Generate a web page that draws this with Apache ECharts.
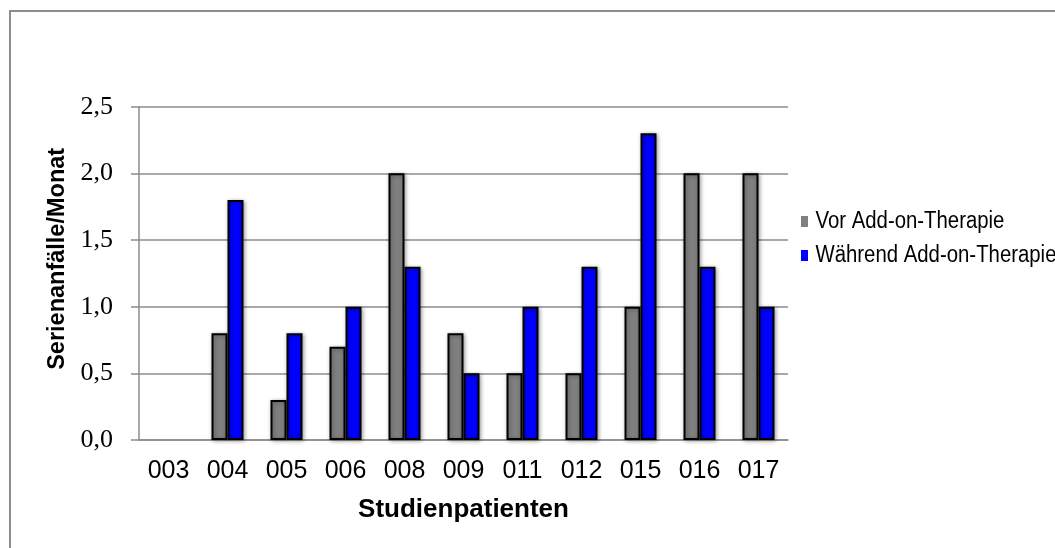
<!DOCTYPE html>
<html>
<head>
<meta charset="utf-8">
<script src="https://cdn.jsdelivr.net/npm/echarts@6/dist/echarts.min.js"></script>
<style>
  html, body { margin: 0; padding: 0; background: #fff; }
  #chart { width: 1055px; height: 548px; }
</style>
</head>
<body>
<div id="chart"></div>
<script>
// Patient IDs along the x axis
const patients = ['003', '004', '005', '006', '008', '009', '011', '012', '015', '016', '017'];
// Seizure clusters per month before add-on therapy
const vorTherapie = [0, 0.8, 0.3, 0.7, 2.0, 0.8, 0.5, 0.5, 1.0, 2.0, 2.0];
// Seizure clusters per month during add-on therapy
const waehrendTherapie = [0, 1.8, 0.8, 1.0, 1.3, 0.5, 1.0, 1.3, 2.3, 1.3, 1.0];
// Series names shown in the legend
const seriesNames = ['Vor Add-on-Therapie', 'Während Add-on-Therapie'];
// Value axis range and step
const yMin = 0, yMax = 2.5, yStep = 0.5;

// Legend layout: first row centre and row pitch
const legendLeft = 801, legendFirstY = 221.5, legendPitch = 34, legendIconH = 11;

const barStyle = (color) => ({
  color: color,
  borderColor: '#000',
  borderWidth: 2,
  shadowColor: 'rgba(0,0,0,0.35)',
  shadowBlur: 4,
  shadowOffsetX: 1,
  shadowOffsetY: 1
});

// Zero-height bars get no outline so nothing is drawn for them
const toItems = (arr) => arr.map(v => v === 0 ? { value: v, itemStyle: { borderWidth: 0, shadowBlur: 0 } } : v);

// Legend labels in a condensed face (horizontally scaled sans)
const legendLabels = seriesNames.map((name, i) => ({
  type: 'text',
  silent: true,
  x: legendLeft + 14.5,
  y: legendFirstY + i * legendPitch,
  scaleX: 0.866,
  style: {
    text: name,
    x: 0,
    y: 0,
    fill: '#000',
    font: '23.5px "Liberation Sans", Arial, sans-serif',
    verticalAlign: 'middle',
    align: 'left'
  }
}));

const chart = echarts.init(document.getElementById('chart'), null, { renderer: 'canvas' });
chart.setOption({
  animation: false,
  backgroundColor: '#fff',
  graphic: [{
    type: 'rect',
    z: -10,
    silent: true,
    shape: { x: 10, y: 11, width: 1200, height: 700 },
    style: { fill: 'none', stroke: '#8c8c8c', lineWidth: 2 }
  }].concat(legendLabels),
  grid: { left: 139, right: 267, top: 106.7, bottom: 108, containLabel: false },
  legend: {
    orient: 'vertical',
    left: legendLeft,
    top: legendFirstY - legendIconH / 2,
    padding: 0,
    itemWidth: 7,
    itemHeight: legendIconH,
    itemGap: legendPitch - legendIconH,
    icon: 'rect',
    itemStyle: { borderWidth: 0, shadowBlur: 0 },
    formatter: () => '',
    textStyle: { fontSize: 1, lineHeight: 1 },
    data: seriesNames
  },
  xAxis: {
    type: 'category',
    data: patients,
    name: 'Studienpatienten',
    nameLocation: 'middle',
    nameGap: 57,
    nameTextStyle: { fontFamily: '"Liberation Sans", Arial', fontWeight: 'bold', fontSize: 26, color: '#000' },
    axisLine: { lineStyle: { color: '#8c8c8c', width: 1.5 } },
    axisTick: { show: false },
    axisLabel: { fontFamily: '"Liberation Sans", Arial', fontSize: 25, color: '#000', margin: 19 }
  },
  yAxis: {
    type: 'value',
    min: yMin,
    max: yMax,
    interval: yStep,
    name: 'Serienanfälle/Monat',
    nameLocation: 'middle',
    nameGap: 69,
    nameTextStyle: {
      fontFamily: '"Liberation Sans", Arial',
      fontWeight: 'bold',
      fontSize: 23.5,
      color: '#000',
      padding: [0, 0, 0, 29]
    },
    axisLine: { show: true, lineStyle: { color: '#8c8c8c', width: 1.5 } },
    axisTick: { show: true, length: 8, lineStyle: { color: '#8c8c8c', width: 1.5 } },
    splitLine: { lineStyle: { color: '#8c8c8c', width: 1.5 } },
    axisLabel: {
      fontFamily: '"Liberation Serif", "Times New Roman", serif',
      fontSize: 26,
      color: '#000',
      margin: 26,
      formatter: (v) => v.toFixed(1).replace('.', ',')
    }
  },
  series: [
    {
      name: seriesNames[0],
      type: 'bar',
      data: toItems(vorTherapie),
      barWidth: 16,
      barGap: '0%',
      itemStyle: barStyle('#808080')
    },
    {
      name: seriesNames[1],
      type: 'bar',
      data: toItems(waehrendTherapie),
      barWidth: 16,
      barGap: '0%',
      itemStyle: barStyle('#0000ff')
    }
  ]
});
</script>
</body>
</html>
